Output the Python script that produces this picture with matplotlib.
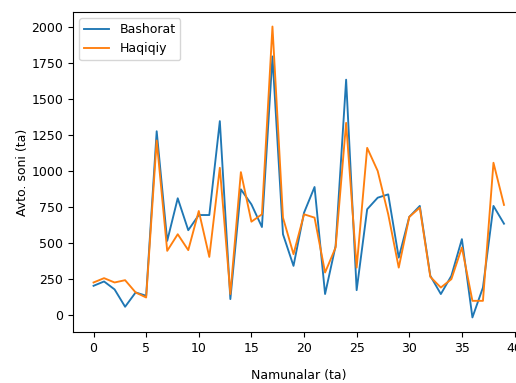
import matplotlib
matplotlib.use("Agg")
import matplotlib.pyplot as plt
import numpy as np

bashorat = [205, 235, 180, 60, 159, 136, 1275, 516, 811, 590,
            695, 695, 1345, 113, 873, 769, 612, 1793, 562, 343,
            711, 889, 148, 481, 1632, 175, 735, 815, 838, 400,
            682, 758, 274, 148, 274, 528, -14, 193, 758, 635]
haqiqiy = [228, 258, 228, 244, 159, 124, 1211, 447, 562, 452,
           723, 405, 1022, 148, 992, 649, 700, 2000, 677, 424,
           700, 677, 297, 470, 1333, 331, 1160, 1000, 700, 331,
           682, 746, 267, 193, 251, 470, 101, 101, 1057, 765]
x = list(range(len(bashorat)))

plt.rcParams['font.size'] = 9
plt.rcParams['lines.linewidth'] = 1.35

fig = plt.figure(figsize=(5.16, 3.83), dpi=100)
ax = fig.add_axes([0.1415, 0.1332, 0.875, 0.8355])
ax.plot(x, bashorat, label="Bashorat")
ax.plot(x, haqiqiy, label="Haqiqiy")
ax.set_xlabel("Namunalar (ta)", labelpad=10.5)
ax.set_ylabel("Avto. soni (ta)", labelpad=1.5)
ax.legend(loc="upper left")
fig.savefig("out.png", dpi=100)
